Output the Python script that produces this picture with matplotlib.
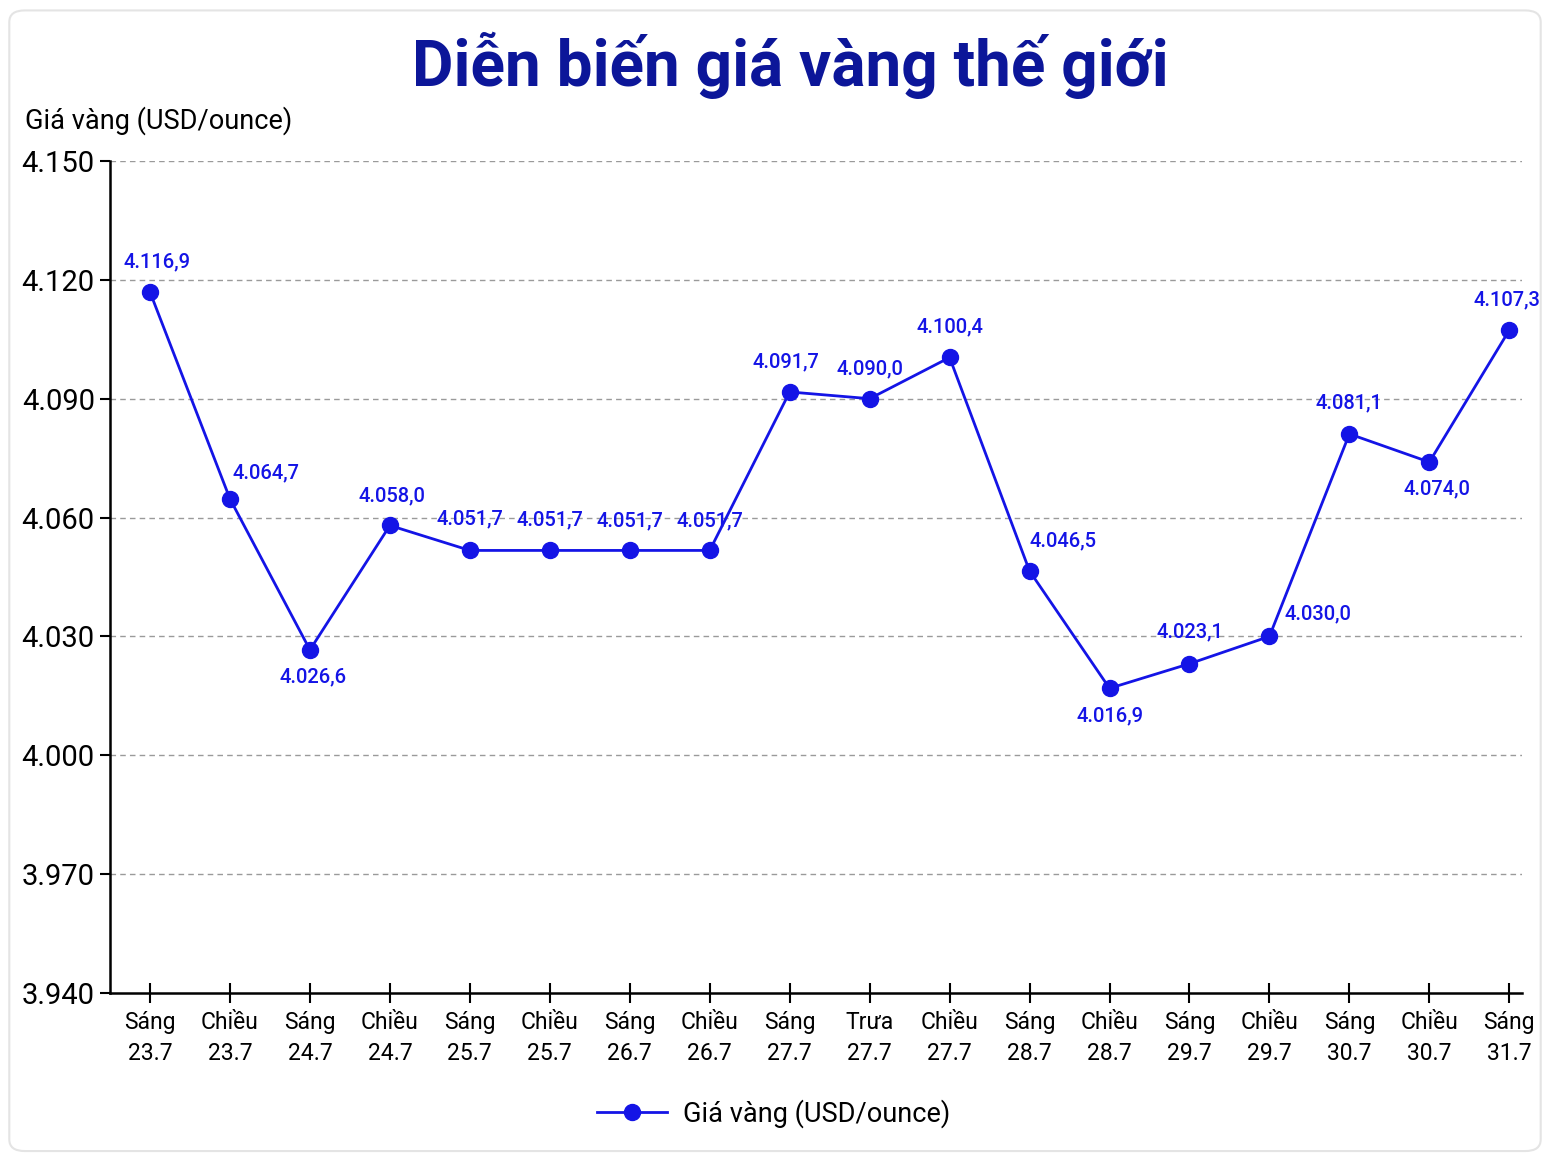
import matplotlib.pyplot as plt
from matplotlib.patches import FancyBboxPatch

plt.rcParams['font.family'] = ['Roboto', 'DejaVu Sans']

sessions = ['Sáng', 'Chiều', 'Sáng', 'Chiều', 'Sáng', 'Chiều', 'Sáng', 'Chiều', 'Sáng',
            'Trưa', 'Chiều', 'Sáng', 'Chiều', 'Sáng', 'Chiều', 'Sáng', 'Chiều', 'Sáng']
dates = ['23.7', '23.7', '24.7', '24.7', '25.7', '25.7', '26.7', '26.7', '27.7',
         '27.7', '27.7', '28.7', '28.7', '29.7', '29.7', '30.7', '30.7', '31.7']
prices = [4116.9, 4064.7, 4026.6, 4058.0, 4051.7, 4051.7, 4051.7, 4051.7, 4091.7,
          4090.0, 4100.4, 4046.5, 4016.9, 4023.1, 4030.0, 4081.1, 4074.0, 4107.3]
y_ticks = [3940, 3970, 4000, 4030, 4060, 4090, 4120, 4150]

# label offsets in pixels (dx, dy) relative to each point
label_offsets = [(7, 30), (36, 26), (3, -27), (2, 30), (0, 32), (0, 31), (0, 30), (0, 30), (-4, 30),
                 (0, 30), (0, 31), (33, 30), (0, -28), (0, 32), (49, 23), (0, 31), (8, -27), (-2, 30)]

blue = '#1414e6'
title_blue = '#0c1699'


def vn(v, dec=1):
    s = f'{v:,.{dec}f}'
    return s.replace(',', 'X').replace('.', ',').replace('X', '.')


fig = plt.figure(figsize=(15.5, 11.58), dpi=100)
fig.patch.set_facecolor('white')
fig.patches.append(FancyBboxPatch((0.006, 0.006), 0.988, 0.985, boxstyle='round,pad=0,rounding_size=0.01',
                                  transform=fig.transFigure, fill=False, edgecolor='#e4e4e4', linewidth=1.5))
ax = fig.add_axes([0.071, 0.1425, 0.911, 0.7185])

x = list(range(len(prices)))
ax.plot(x, prices, '-o', color=blue, linewidth=2, markersize=11.5, label='Giá vàng (USD/ounce)', zorder=3)

for i, v in enumerate(prices):
    dx, dy = label_offsets[i]
    ax.annotate(vn(v), (i, v), xytext=(dx, dy), textcoords='offset pixels',
                ha='center', va='center', color=blue, fontsize=14.5, fontweight='medium')

ax.set_xlim(-0.5, 17.16)
ax.set_ylim(3940, 4150)
ax.set_yticks(y_ticks)
ax.set_yticklabels([vn(t, 0) for t in y_ticks], fontsize=21)
ax.set_xticks(x)
ax.set_xticklabels([f'{s}\n{d}' for s, d in zip(sessions, dates)], fontsize=16.5, linespacing=1.45)
ax.tick_params(axis='y', length=7, width=1.5, pad=4)
ax.tick_params(axis='x', direction='inout', length=14, width=1.5, pad=6)

for t in y_ticks[1:]:
    ax.axhline(t, color='#9a9a9a', linestyle=(0, (4, 3)), linewidth=1, zorder=1)

ax.spines['top'].set_visible(False)
ax.spines['right'].set_visible(False)
ax.spines['left'].set_linewidth(1.8)
ax.spines['bottom'].set_linewidth(1.8)

fig.text(0.51, 0.944, 'Diễn biến giá vàng thế giới', ha='center', va='center',
         fontsize=46, fontweight='bold', color=title_blue)
fig.text(0.016, 0.896, 'Giá vàng (USD/ounce)', ha='left', va='center', fontsize=19.5)

ax.legend(loc='center', bbox_to_anchor=(0.47, -0.145), frameon=False, fontsize=19.5,
          handlelength=2.6, handletextpad=0.6)

plt.savefig('out.png', dpi=100)
